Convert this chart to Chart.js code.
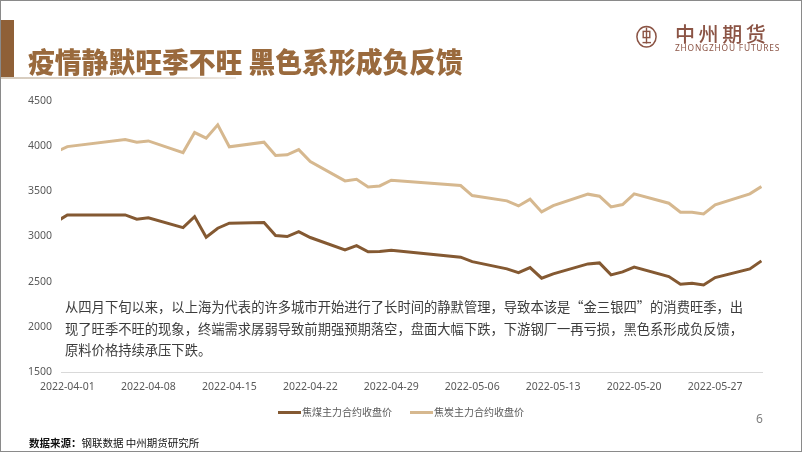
<!DOCTYPE html>
<html><head><meta charset="utf-8">
<script src="https://cdn.jsdelivr.net/npm/chart.js@4"></script>
<style>
html,body{margin:0;padding:0;background:#fff;}
#page{position:relative;width:802px;height:452px;overflow:hidden;background:#fff;font-family:"Noto Sans CJK SC","Noto Sans",sans-serif;}
#frame{position:absolute;left:0;top:0;width:802px;height:452px;box-sizing:border-box;border:1.5px solid #8a8a8a;z-index:5;pointer-events:none;}
#c{position:absolute;left:0;top:0;}
.abs{position:absolute;z-index:3;white-space:nowrap;}
#bar{position:absolute;left:0;top:20px;width:14px;height:58px;background:#8f6037;z-index:3;}
#uline{position:absolute;left:0;top:77px;width:236px;height:2px;background:linear-gradient(90deg,#d6cbbd,#e3dad0 80%,#efeae4);z-index:3;}
#title{left:28px;top:43px;font-size:26.8px;line-height:36px;font-weight:900;color:#9a6a3d;transform:scaleY(1.05);transform-origin:left center;letter-spacing:0px;}
#logoText{left:675px;top:20px;font-size:20px;line-height:27px;color:#8b5445;letter-spacing:3.6px;font-weight:500;}
#logoEn{left:675px;top:42px;font-size:8.4px;line-height:12px;color:#8b5445;letter-spacing:0.8px;font-family:"Noto Sans",sans-serif;}
#para{left:65px;top:296px;font-size:13.3px;line-height:21.6px;color:#3c3c3c;}
#legend{left:0;width:802px;top:404px;display:flex;justify-content:center;gap:18px;font-size:10px;line-height:16px;color:#595959;}
#legend .it{display:flex;align-items:center;}
#legend .sw{width:23px;height:3px;margin-right:1px;}
#pnum{left:756px;top:411px;font-size:12px;line-height:16px;color:#7f7f7f;font-family:"Noto Sans",sans-serif;}
#src{left:29px;top:435px;font-size:10.5px;line-height:16px;color:#111;}
</style></head>
<body>
<div id="page">
<canvas id="c" width="802" height="452"></canvas>
<div id="bar"></div>
<div id="uline"></div>
<div id="title" class="abs">疫情静默旺季不旺 黑色系形成负反馈</div>
<svg class="abs" style="left:634px;top:24px;" width="26" height="26" viewBox="0 0 26 26">
  <ellipse cx="12.5" cy="12.7" rx="9.6" ry="10.2" fill="none" stroke="#8b5445" stroke-width="1.5"/>
  <rect x="9.2" y="7.4" width="6.6" height="6.2" fill="none" stroke="#8b5445" stroke-width="1.4"/>
  <line x1="12.5" y1="3.5" x2="12.5" y2="19.5" stroke="#8b5445" stroke-width="1.4"/>
  <line x1="8.5" y1="18.6" x2="17" y2="18.6" stroke="#8b5445" stroke-width="1.4"/>
</svg>
<div id="logoText" class="abs">中州期货</div>
<div id="logoEn" class="abs">ZHONGZHOU FUTURES</div>
<div id="para" class="abs">从四月下旬以来，以上海为代表的许多城市开始进行了长时间的静默管理，导致本该是“金三银四”的消费旺季，出<br>现了旺季不旺的现象，终端需求孱弱导致前期强预期落空，盘面大幅下跌，下游钢厂一再亏损，黑色系形成负反馈，<br>原料价格持续承压下跌。</div>
<div id="legend" class="abs"></div>
<div id="pnum" class="abs">6</div>
<div id="src" class="abs"><b>数据来源：</b>钢联数据 中州期货研究所</div>
<div id="frame"></div>
</div>
<script>
// ---- data ----
const dates = ['2022-03-31','2022-04-01','2022-04-06','2022-04-07','2022-04-08','2022-04-11','2022-04-12','2022-04-13','2022-04-14','2022-04-15','2022-04-18','2022-04-19','2022-04-20','2022-04-21','2022-04-22','2022-04-25','2022-04-26','2022-04-27','2022-04-28','2022-04-29','2022-05-05','2022-05-06','2022-05-09','2022-05-10','2022-05-11','2022-05-12','2022-05-13','2022-05-16','2022-05-17','2022-05-18','2022-05-19','2022-05-20','2022-05-23','2022-05-24','2022-05-25','2022-05-26','2022-05-27','2022-05-30','2022-05-31'];
const cokingCoal = [3158,3238,3238,3191,3205,3098,3219,2992,3091,3146,3153,3010,2999,3054,2988,2852,2899,2830,2833,2848,2771,2722,2642,2601,2656,2539,2587,2697,2708,2576,2609,2661,2557,2473,2484,2465,2546,2642,2730];
const coke = [3931,3992,4069,4041,4055,3926,4147,4085,4232,3990,4041,3893,3901,3959,3827,3613,3632,3547,3558,3621,3562,3451,3393,3337,3411,3271,3341,3467,3445,3326,3352,3470,3367,3268,3268,3249,3349,3470,3551];
const seriesNames = ['焦煤主力合约收盘价','焦炭主力合约收盘价'];
const tickDates = ['2022-04-01','2022-04-08','2022-04-15','2022-04-22','2022-04-29','2022-05-06','2022-05-13','2022-05-20','2022-05-27'];
const yTicks = [1500,2000,2500,3000,3500,4000,4500];

// ---- helpers ----
const BASE = Date.UTC(2022,3,1);
const dayIdx = s => { const [y,m,d] = s.split('-').map(Number); return Math.round((Date.UTC(y,m-1,d)-BASE)/86400000); };
const idxToDate = v => { const t = new Date(BASE + v*86400000); return t.toISOString().slice(0,10); };
const toPts = arr => arr.map((v,i)=>({x: dayIdx(dates[i]), y: v}));
const colors = ['#845932','#d6b88f'];

const chart = new Chart(document.getElementById('c'), {
  type: 'line',
  data: { datasets: [
    { label: seriesNames[0], data: toPts(cokingCoal), borderColor: colors[0], backgroundColor: colors[0], borderWidth: 3, pointRadius: 0, tension: 0 },
    { label: seriesNames[1], data: toPts(coke), borderColor: colors[1], backgroundColor: colors[1], borderWidth: 3, pointRadius: 0, tension: 0 }
  ]},
  options: {
    responsive: false, animation: false,
    layout: { padding: { left: 0, right: 40, top: 100.6, bottom: 59.7 } },
    plugins: { legend: { display: false }, tooltip: { enabled: false } },
    scales: {
      x: {
        type: 'linear', min: -0.55, max: 60.05,
        grid: { display: false, drawTicks: false },
        border: { display: true, color: '#d9d9d9', width: 1 },
        afterBuildTicks: s => { s.ticks = tickDates.map(d => ({ value: dayIdx(d) })); },
        afterFit: s => { s.height = 20; },
        ticks: { autoSkip: false, maxRotation: 0, padding: 8, color: '#595959',
          font: { family: 'Noto Sans', size: 10.5 }, callback: v => idxToDate(v) }
      },
      y: {
        min: 1500, max: 4500,
        grid: { display: false, drawTicks: false },
        border: { display: false },
        afterBuildTicks: s => { s.ticks = yTicks.map(v => ({ value: v })); },
        afterFit: s => { s.width = 61; },
        ticks: { padding: 9, color: '#595959', font: { family: 'Noto Sans', size: 10.5 }, callback: v => String(v) }
      }
    }
  }
});

// legend built from the chart's datasets
const lg = document.getElementById('legend');
chart.data.datasets.forEach(ds => {
  const it = document.createElement('div'); it.className = 'it';
  const sw = document.createElement('div'); sw.className = 'sw'; sw.style.background = ds.borderColor;
  const tx = document.createElement('span'); tx.textContent = ds.label;
  it.appendChild(sw); it.appendChild(tx); lg.appendChild(it);
});
</script>
</body></html>
